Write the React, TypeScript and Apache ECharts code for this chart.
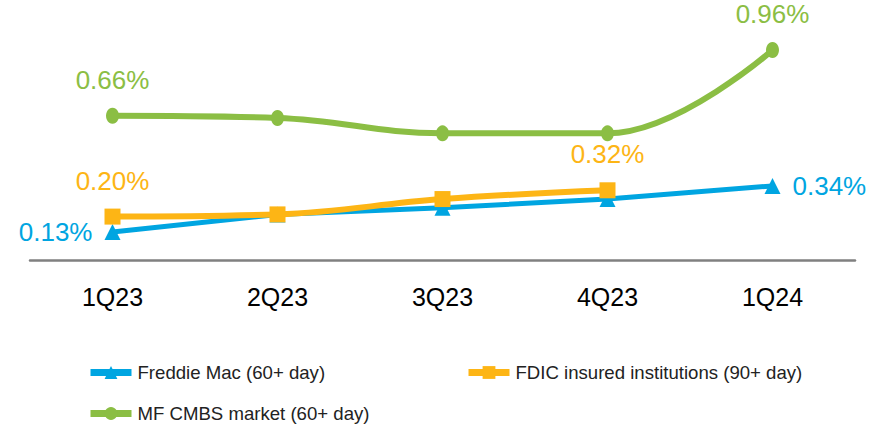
import React, { useEffect, useRef } from "react";
import * as echarts from "echarts";

const categories = ["1Q23", "2Q23", "3Q23", "4Q23", "1Q24"];
const freddieMac = [0.13, 0.21, 0.24, 0.28, 0.34];
const fdic = [0.2, 0.21, 0.28, 0.32];
const mfCmbs = [0.66, 0.65, 0.58, 0.58, 0.96];

const seriesNames = [
  "Freddie Mac (60+ day)",
  "FDIC insured institutions (90+ day)",
  "MF CMBS market (60+ day)",
];
// which points carry a data label, and where
const freddieLabels: Record<number, string> = { 0: "left", 4: "right" };
const fdicLabels: Record<number, string> = { 0: "top", 3: "top" };
const mfLabels: Record<number, string> = { 0: "top", 4: "top" };

const BLUE = "#00A5E1";
const ORANGE = "#FDB515";
const GREEN = "#8BBE44";
const FONT = "'Liberation Sans', Arial, sans-serif";

function withLabels(values: number[], labels: Record<number, string>, color: string) {
  return values.map((v, i) => {
    const pos = labels[i];
    if (!pos) return { value: v };
    return {
      value: v,
      label: {
        show: true,
        position: pos,
        distance: pos === "top" ? 15 : 12,
        color,
        fontSize: 26,
        fontFamily: FONT,
        formatter: (p: any) => Number(p.value).toFixed(2) + "%",
      },
    };
  });
}

export default function App() {
  const ref = useRef<HTMLDivElement>(null);
  useEffect(() => {
    if (!ref.current) return;
    const chart = echarts.init(ref.current, undefined, { renderer: "svg" });
    const legendBase = {
      itemWidth: 41,
      itemHeight: 16,
      padding: 0,
      lineStyle: { width: 7 },
      textStyle: { fontSize: 18.6, color: "#222", fontFamily: FONT, padding: [0, 0, 0, 1] },
      selectedMode: false,
    };
    chart.setOption({
      animation: false,
      textStyle: { fontFamily: FONT },
      grid: { left: 30, right: 28, top: 4, height: 263 },
      legend: [
        { ...legendBase, data: [seriesNames[0]], left: 87, top: 363 },
        { ...legendBase, data: [seriesNames[1]], left: 465, top: 363 },
        { ...legendBase, data: [seriesNames[2]], left: 87, top: 404 },
      ],
      xAxis: {
        type: "category",
        data: categories,
        boundaryGap: true,
        axisLine: { lineStyle: { color: "#808080", width: 2.5 } },
        axisTick: { show: false },
        axisLabel: { fontSize: 25, color: "#000", margin: 17, fontFamily: FONT },
      },
      yAxis: {
        type: "value",
        min: -0.03,
        max: 1.17,
        show: false,
        splitLine: { show: false },
      },
      series: [
        {
          name: seriesNames[0],
          type: "line",
          data: withLabels(freddieMac, freddieLabels, BLUE),
          symbol: "triangle",
          symbolSize: 16,
          itemStyle: { color: BLUE },
          lineStyle: { color: BLUE, width: 5 },
          z: 2,
        },
        {
          name: seriesNames[1],
          type: "line",
          data: withLabels(fdic, fdicLabels, ORANGE),
          symbol: "rect",
          symbolSize: 16,
          smooth: 0.4,
          itemStyle: { color: ORANGE },
          lineStyle: { color: ORANGE, width: 6 },
          z: 3,
        },
        {
          name: seriesNames[2],
          type: "line",
          data: withLabels(mfCmbs, mfLabels, GREEN),
          symbol: "circle",
          symbolSize: [13, 16],
          smooth: 0.4,
          itemStyle: { color: GREEN },
          lineStyle: { color: GREEN, width: 6 },
          z: 4,
        },
      ],
    });
    return () => chart.dispose();
  }, []);
  return (
    <div
      ref={ref}
      style={{ position: "fixed", left: 0, top: 0, width: 883, height: 425, background: "#fff" }}
    />
  );
}
